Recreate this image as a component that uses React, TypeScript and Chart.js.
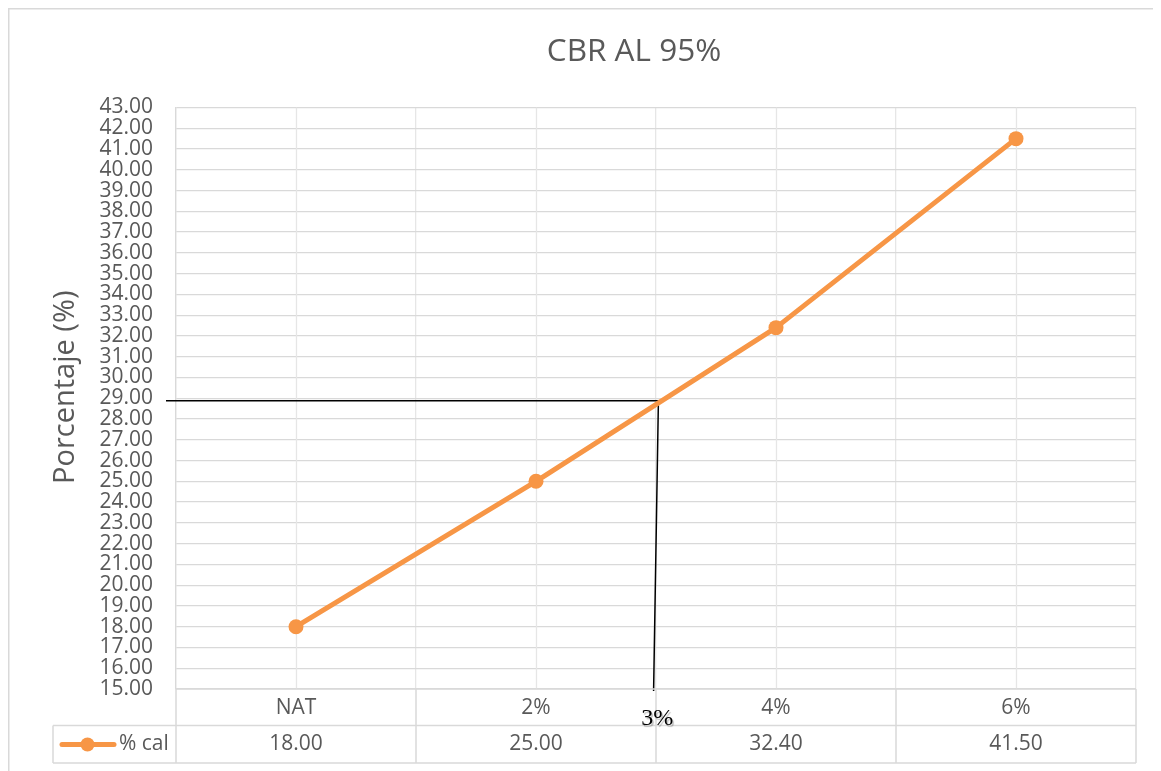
import { useEffect, useRef } from "react";
import { Chart, registerables } from "chart.js";

Chart.register(...registerables);

// ---- data ----
const categories = ["NAT", "2%", "4%", "6%"];
const seriesName = "% cal";
const values = [18.0, 25.0, 32.4, 41.5];
const yMin = 15;
const yMax = 43;
const yStep = 1;
const chartTitle = "CBR AL 95%";
const yTitle = "Porcentaje (%)";
// reading lines (interpolated reading at 3%)
const readingValue = 28.88;
const readingTopIndex = 1.51;
const readingBottomIndex = 1.49;
const readingLabel = "3%";

// ---- style ----
const FONT = "'Open Sans', sans-serif";
const GREY = "#595959";
const ORANGE = "#F79646";
const LINE = "#d9d9d9";
const VGRID = "#e6e6e6";

const extrasPlugin = {
  id: "excelExtras",
  beforeDraw(chart: any) {
    const { ctx, width, height } = chart;
    ctx.save();
    ctx.fillStyle = "#ffffff";
    ctx.fillRect(0, 0, width, height);
    ctx.strokeStyle = LINE;
    ctx.lineWidth = 1.5;
    ctx.beginPath();
    ctx.moveTo(0.75, height);
    ctx.lineTo(0.75, 0.75);
    ctx.lineTo(width, 0.75);
    ctx.stroke();
    ctx.restore();
  },
  beforeDatasetsDraw(chart: any) {
    const { ctx, chartArea: area } = chart;
    const x = chart.scales.x;
    const y = chart.scales.y;
    ctx.save();
    // centre gridlines of each category
    ctx.strokeStyle = VGRID;
    ctx.lineWidth = 1.3;
    categories.forEach((_, i) => {
      const px = Math.round(x.getPixelForValue(i)) + 0.5;
      ctx.beginPath();
      ctx.moveTo(px, area.top);
      ctx.lineTo(px, area.bottom);
      ctx.stroke();
    });
    // reading lines
    const py = y.getPixelForValue(readingValue);
    ctx.strokeStyle = "#000000";
    ctx.lineWidth = 1.5;
    ctx.beginPath();
    ctx.moveTo(area.left - 10, py);
    ctx.lineTo(x.getPixelForValue(readingTopIndex), py);
    ctx.lineTo(x.getPixelForValue(readingBottomIndex), area.bottom + 2);
    ctx.stroke();
    ctx.restore();
  },
  afterDraw(chart: any) {
    const { ctx, chartArea: area } = chart;
    const x = chart.scales.x;
    ctx.save();
    // title
    ctx.font = `31.5px ${FONT}`;
    ctx.fillStyle = GREY;
    ctx.textAlign = "center";
    ctx.textBaseline = "middle";
    ctx.fillText(chartTitle, (area.left + area.right) / 2 - 22, 44);

    // y-axis title
    ctx.save();
    ctx.translate(58, (area.top + area.bottom) / 2 - 11);
    ctx.rotate(-Math.PI / 2);
    ctx.font = `29px ${FONT}`;
    ctx.fillText(yTitle, 0, 0);
    ctx.restore();

    // data table
    const top = area.bottom;
    const mid = top + 36.5;
    const bot = mid + 37.5;
    const legendLeft = area.left - 123;
    ctx.strokeStyle = LINE;
    ctx.lineWidth = 1.5;
    const seg = (x1: number, y1: number, x2: number, y2: number) => {
      ctx.beginPath();
      ctx.moveTo(x1, y1);
      ctx.lineTo(x2, y2);
      ctx.stroke();
    };
    seg(area.left, top, area.right, top);
    seg(legendLeft, mid, area.right, mid);
    seg(legendLeft, bot, area.right, bot);
    seg(legendLeft, mid, legendLeft, bot);
    for (let i = 0; i <= categories.length; i++) {
      const bx = x.getPixelForValue(i - 0.5);
      seg(bx, top, bx, bot);
    }
    ctx.font = `21px ${FONT}`;
    ctx.fillStyle = GREY;
    ctx.textAlign = "center";
    ctx.textBaseline = "middle";
    categories.forEach((c, i) => {
      ctx.fillText(c, x.getPixelForValue(i), top + 19);
    });
    values.forEach((v, i) => {
      ctx.fillText(v.toFixed(2), x.getPixelForValue(i), mid + 19);
    });
    // legend key
    const ky = mid + 19;
    ctx.strokeStyle = ORANGE;
    ctx.lineWidth = 5;
    ctx.lineCap = "round";
    seg(legendLeft + 9, ky, legendLeft + 61, ky);
    ctx.fillStyle = ORANGE;
    ctx.beginPath();
    ctx.arc(legendLeft + 34.5, ky, 7, 0, Math.PI * 2);
    ctx.fill();
    ctx.fillStyle = GREY;
    ctx.textAlign = "left";
    ctx.fillText(seriesName, legendLeft + 66, ky);

    // reading label
    ctx.font = "24px 'Liberation Serif', 'Times New Roman', serif";
    ctx.fillStyle = "#000000";
    ctx.textAlign = "center";
    ctx.shadowColor = "rgba(0,0,0,0.25)";
    ctx.shadowOffsetX = 1.5;
    ctx.shadowOffsetY = 1.5;
    ctx.shadowBlur = 1;
    ctx.fillText(readingLabel, x.getPixelForValue(1.505), top + 30);
    ctx.restore();
  },
};

export default function App() {
  const canvasRef = useRef<HTMLCanvasElement | null>(null);

  useEffect(() => {
    document.documentElement.style.overflow = "hidden";
    const canvas = canvasRef.current;
    if (!canvas) return;
    const chart = new Chart(canvas, {
      type: "line",
      data: {
        labels: categories,
        datasets: [
          {
            label: seriesName,
            data: values,
            borderColor: ORANGE,
            backgroundColor: ORANGE,
            borderWidth: 5,
            pointRadius: 7.5,
            pointHoverRadius: 7.5,
            pointBackgroundColor: ORANGE,
            pointBorderColor: ORANGE,
            pointBorderWidth: 0,
            tension: 0,
            borderJoinStyle: "round",
            borderCapStyle: "round",
          } as any,
        ],
      },
      options: {
        animation: false,
        responsive: true,
        maintainAspectRatio: false,
        events: [],
        layout: { padding: { top: 99.5, left: 0, right: 25, bottom: 82 } },
        plugins: {
          legend: { display: false },
          tooltip: { enabled: false },
          title: { display: false },
        },
        scales: {
          x: {
            type: "category",
            offset: true,
            grid: {
              display: true,
              offset: true,
              color: VGRID,
              lineWidth: 1.3,
              drawTicks: false,
            },
            border: { display: false },
            ticks: { display: false },
            afterFit: (scale: any) => {
              scale.height = 0;
            },
          },
          y: {
            type: "linear",
            min: yMin,
            max: yMax,
            grid: { color: LINE, lineWidth: 1.3, drawTicks: false },
            border: { display: true, color: LINE, width: 1.3 },
            ticks: {
              stepSize: yStep,
              autoSkip: false,
              padding: 23,
              color: GREY,
              font: { family: FONT, size: 21, lineHeight: 1 },
              callback: (v: any) => Number(v).toFixed(2),
            },
            title: { display: false, text: yTitle },
            afterFit: (scale: any) => {
              scale.width = 168;
            },
          },
        },
      },
      plugins: [extrasPlugin],
    });
    return () => chart.destroy();
  }, []);

  return (
    <div style={{ position: "relative", width: 1153, height: 763, overflow: "hidden" }}>
      <canvas ref={canvasRef} />
    </div>
  );
}
